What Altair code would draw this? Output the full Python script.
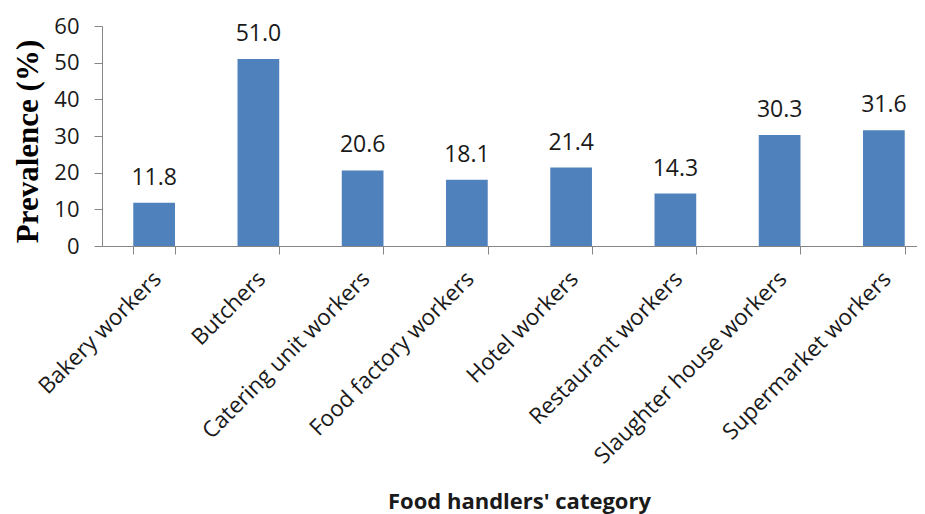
import altair as alt
import pandas as pd

categories = [
    "Bakery workers",
    "Butchers",
    "Catering unit workers",
    "Food factory workers",
    "Hotel workers",
    "Restaurant workers",
    "Slaughter house workers",
    "Supermarket workers",
]
values = [11.8, 51.0, 20.6, 18.1, 21.4, 14.3, 30.3, 31.6]
y_ticks = [0, 10, 20, 30, 40, 50, 60]

df = pd.DataFrame({
    "cat": categories,
    "val": values,
    "lab": [f"{v:.1f}" for v in values],
})

AXIS_GRAY = "#868686"
TEXT = "#1a1a1a"

x = alt.X(
    "cat:N",
    sort=categories,
    title="Food handlers' category",
    scale=alt.Scale(range=[0, 834], paddingInner=0.6, paddingOuter=0.3),
    axis=alt.Axis(
        labelAngle=-45, labelAlign="right", labelBaseline="middle",
        labelPadding=21, labelOffset=3, labelLimit=400, labelOverlap=False,
        tickBand="extent", tickSize=8,
        domainColor=AXIS_GRAY, tickColor=AXIS_GRAY,
        labelFont="Open Sans", labelFontSize=22.5, labelColor=TEXT,
        titleFont="Open Sans", titleFontSize=22, titleFontWeight="bold",
        titleColor=TEXT, titleX=417, titleY=262,
        titleBaseline="alphabetic", titleAlign="center",
    ),
)

y = alt.Y(
    "val:Q",
    title="Prevalence (%)",
    scale=alt.Scale(domain=[0, 60]),
    axis=alt.Axis(
        values=y_ticks, grid=False, tickSize=8, labelPadding=15,
        labelOverlap=False,
        domainColor=AXIS_GRAY, tickColor=AXIS_GRAY,
        labelFont="Open Sans", labelFontSize=22, labelColor=TEXT,
        titleFont="Liberation Serif", titleFontSize=31, titleFontWeight="bold",
        titleColor="#000000", titleAngle=-90, titleX=-74, titleY=115,
        titleBaseline="middle", titleAlign="center",
    ),
)

base = alt.Chart(df).encode(x=x, y=y)
bars = base.mark_bar(color="#4F81BD")
labels = base.mark_text(
    dy=-18, baseline="alphabetic", font="Open Sans", fontSize=23, color=TEXT
).encode(text="lab:N")

chart = (
    alt.layer(bars, labels)
    .properties(
        width=815, height=220,
        autosize=alt.AutoSizeParams(type="none"),
        padding={"left": 94, "top": 18, "right": 0, "bottom": 268},
        background="white",
    )
    .configure_view(stroke=None)
)

chart.save("out.html", embed_options={"renderer": "svg", "actions": False})
